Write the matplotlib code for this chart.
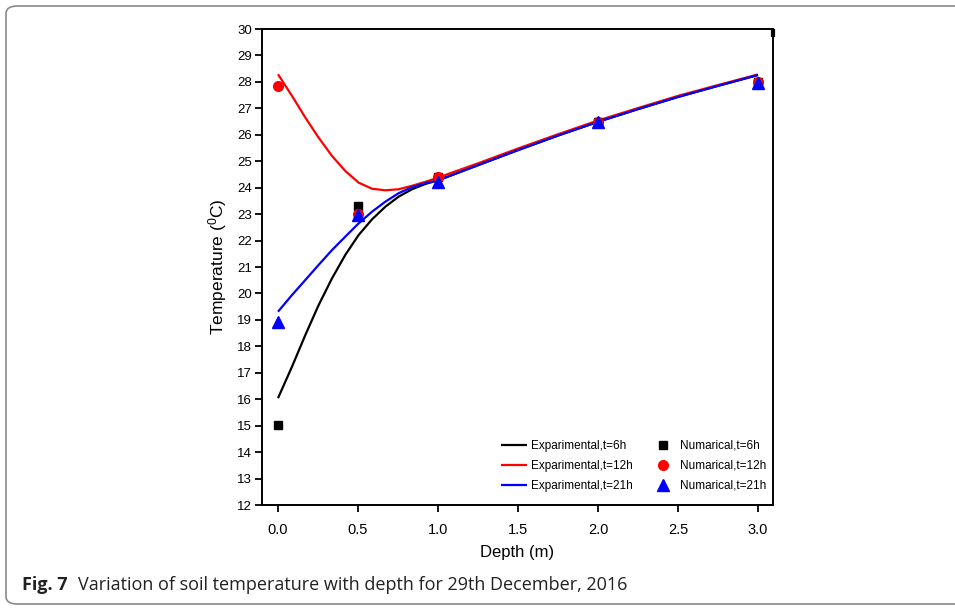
import matplotlib
matplotlib.use("Agg")
import matplotlib.pyplot as plt
from matplotlib.lines import Line2D
from matplotlib.patches import FancyBboxPatch

# ---------------- data ----------------
depth_curve = [0.0, 0.0875, 0.171, 0.254, 0.3375, 0.421, 0.504, 0.5875, 0.671,
               0.754, 0.8375, 0.921, 1.0, 1.25, 1.5, 1.75, 2.0, 2.25, 2.5, 2.75, 3.0]
exp_6h = [16.04, 17.23, 18.43, 19.56, 20.57, 21.46, 22.21, 22.80, 23.28,
          23.66, 23.94, 24.14, 24.28, 24.85, 25.42, 25.97, 26.49, 26.97, 27.43, 27.85, 28.26]
exp_12h = [28.29, 27.47, 26.65, 25.89, 25.20, 24.63, 24.19, 23.96, 23.90,
           23.94, 24.07, 24.22, 24.38, 24.92, 25.48, 26.02, 26.54, 27.01, 27.47, 27.88, 28.28]
exp_21h = [19.31, 19.94, 20.51, 21.08, 21.64, 22.15, 22.65, 23.09, 23.47,
           23.79, 24.02, 24.17, 24.27, 24.85, 25.42, 25.97, 26.49, 26.97, 27.43, 27.85, 28.26]

depth_num = [0.0, 0.5, 1.0, 2.0, 3.0]
num_6h = [15.03, 23.31, 24.42, 26.5, 27.98]
num_12h = [27.85, 23.0, 24.42, 26.5, 27.98]
num_21h = [18.92, 22.95, 24.22, 26.5, 27.95]

x_ticks = [0.0, 0.5, 1.0, 1.5, 2.0, 2.5, 3.0]
y_ticks = list(range(12, 31))

labels_exp = ["Exparimental,t=6h", "Exparimental,t=12h", "Exparimental,t=21h"]
labels_num = ["Numarical,t=6h", "Numarical,t=12h", "Numarical,t=21h"]

# ---------------- fonts ----------------
plt.rcParams["font.family"] = ["Liberation Sans", "DejaVu Sans"]

W, H = 955, 608
fig = plt.figure(figsize=(W / 100, H / 100), dpi=100)

# outer rounded frame
frame = FancyBboxPatch((6 / W, 4 / H), 1.2, (H - 10) / H,
                       boxstyle="round,pad=0,rounding_size=0.012",
                       transform=fig.transFigure, fill=False,
                       edgecolor="#8a8a8a", linewidth=1.2, clip_on=False)
fig.patches.append(frame)

ax = fig.add_axes([262 / W, 1 - 505 / H, (773 - 262) / W, (505 - 29) / H])

kw = dict(lw=1.6, solid_joinstyle="round", solid_capstyle="butt")
ax.plot(depth_curve, exp_6h, color="black", label=labels_exp[0], zorder=2, **kw)
ax.plot(depth_curve, exp_12h, color="red", label=labels_exp[1], zorder=3, **kw)
ax.plot(depth_curve, exp_21h, color="blue", label=labels_exp[2], zorder=4, **kw)

ax.plot(depth_num, num_6h, ls="none", marker="s", ms=6, color="black",
        label=labels_num[0], zorder=5)
ax.plot(depth_num, num_12h, ls="none", marker="o", ms=7, color="red",
        label=labels_num[1], zorder=6)
ax.plot(depth_num, num_21h, ls="none", marker="^", ms=8, color="blue",
        label=labels_num[2], zorder=7)

ax.set_xlim(-0.1, 3.094)
ax.set_ylim(12, 30)
ax.set_xticks(x_ticks)
ax.set_xticklabels([f"{v:.1f}" for v in x_ticks], fontsize=10.5)
ax.set_yticks(y_ticks)
ax.set_yticklabels([str(v) for v in y_ticks], fontsize=9.5)
ax.tick_params(axis="both", direction="out", length=5, width=1.3, color="black")
ax.tick_params(axis="x", pad=8)
ax.tick_params(axis="y", pad=2)
for s in ax.spines.values():
    s.set_linewidth(1.4)

ax.set_xlabel("Depth (m)", fontsize=12, labelpad=6)
ax.set_ylabel("Temperature ($\\mathregular{^0}$C)", fontsize=12.5, labelpad=6)

# small thick mark at top-right corner
ax.add_line(Line2D([1.0, 1.0], [1.0, 0.983], transform=ax.transAxes,
                   color="black", lw=3, clip_on=False, solid_capstyle="butt"))

handles, labs = ax.get_legend_handles_labels()
leg = ax.legend(handles, labs, ncol=2, loc="upper left",
                bbox_to_anchor=(496 / W, 1 - 435 / H), bbox_transform=fig.transFigure,
                frameon=False, fontsize=8.5, handlelength=2.2, handletextpad=0.4,
                labelspacing=0.68, columnspacing=1.4, borderaxespad=0)

# caption
fig.text(22 / W, 1 - 585 / H, "Fig. 7", fontsize=13, fontweight="bold",
         family=["Open Sans", "DejaVu Sans"], va="center", color="#222222")
fig.text(78 / W, 1 - 585 / H,
         "Variation of soil temperature with depth for 29th December, 2016",
         fontsize=13, family=["Open Sans", "DejaVu Sans"], va="center",
         color="#222222")

fig.savefig("out.png", dpi=100)
